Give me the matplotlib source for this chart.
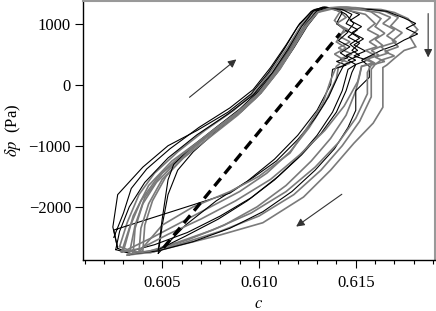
import matplotlib
matplotlib.use("Agg")
import matplotlib.pyplot as plt
from matplotlib.ticker import MultipleLocator, FormatStrFormatter

plt.rcParams['font.family'] = ['Liberation Serif', 'DejaVu Serif']
plt.rcParams['mathtext.fontset'] = 'stix'

# hysteresis loops (c, delta p in Pa)
c1 = [0.6028, 0.6032, 0.6038, 0.6046, 0.6058, 0.6072, 0.6087, 0.6098, 0.6107, 0.6115, 0.6122, 0.6129, 0.6135, 0.6141, 0.6145, 0.6140, 0.6146, 0.6141, 0.6147, 0.6141, 0.6148, 0.6142, 0.6147, 0.6141, 0.6140, 0.6134, 0.6126, 0.6116, 0.6104, 0.6090, 0.6075, 0.6060, 0.6045, 0.6032, 0.6028]
p1 = [-2650, -2250, -1800, -1450, -1100, -750, -420, -120, 250, 620, 980, 1230, 1260, 1220, 1100, 1000, 900, 800, 700, 600, 500, 420, 350, 280, 100, -300, -700, -1100, -1450, -1750, -2000, -2250, -2500, -2700, -2650]

c2 = [0.6027, 0.60245, 0.6027, 0.6040, 0.6053, 0.6068, 0.6084, 0.6096, 0.6105, 0.6113, 0.6120, 0.6127, 0.6133, 0.6140, 0.6146, 0.6152, 0.6147, 0.6153, 0.6148, 0.6154, 0.6149, 0.6155, 0.6149, 0.6156, 0.6150, 0.6148, 0.6145, 0.6140, 0.6132, 0.6122, 0.6110, 0.6096, 0.6080, 0.6063, 0.6046, 0.6032, 0.6027]
p2 = [-2680, -2330, -1800, -1350, -1000, -750, -450, -150, 200, 580, 950, 1200, 1270, 1250, 1220, 1150, 1050, 950, 850, 750, 650, 550, 470, 400, 330, 200, -100, -450, -800, -1150, -1500, -1850, -2150, -2420, -2620, -2740, -2680]

c3 = [0.6032, 0.6040, 0.6041, 0.6045, 0.6052, 0.6062, 0.6076, 0.6090, 0.6101, 0.6109, 0.6117, 0.6124, 0.6130, 0.6137, 0.6146, 0.6155, 0.6163, 0.6170, 0.6177, 0.6182, 0.6178, 0.6181, 0.6175, 0.6170, 0.6166, 0.6164, 0.6164, 0.6159, 0.6149, 0.6137, 0.6123, 0.6102, 0.6080, 0.6060, 0.6045, 0.6032]
p3 = [-2790, -2720, -2300, -1900, -1500, -1150, -780, -450, -130, 230, 600, 950, 1200, 1250, 1260, 1240, 1230, 1180, 1080, 900, 780, 620, 560, 430, 320, 280, -370, -630, -960, -1400, -1840, -2260, -2460, -2620, -2740, -2790]

c4 = [0.6048, 0.6050, 0.6053, 0.6058, 0.6066, 0.6078, 0.6091, 0.6101, 0.6110, 0.6118, 0.6125, 0.6131, 0.6137, 0.6143, 0.6140, 0.6146, 0.6141, 0.6147, 0.6142, 0.6146, 0.6140, 0.6145, 0.6138, 0.6137, 0.6130, 0.6120, 0.6108, 0.6094, 0.6078, 0.6062, 0.6048]
p4 = [-2760, -2300, -1800, -1400, -1100, -760, -440, -140, 220, 600, 960, 1200, 1250, 1180, 1000, 860, 720, 620, 520, 440, 380, 320, 250, 0, -420, -830, -1220, -1580, -1900, -2300, -2760]

c5 = [0.6035, 0.6036, 0.6040, 0.6047, 0.6058, 0.6071, 0.6086, 0.6098, 0.6108, 0.6116, 0.6123, 0.6130, 0.6138, 0.6147, 0.6155, 0.6160, 0.6156, 0.6162, 0.6157, 0.6161, 0.6155, 0.6160, 0.6154, 0.6159, 0.6153, 0.6152, 0.6150, 0.6145, 0.6137, 0.6127, 0.6114, 0.6099, 0.6082, 0.6064, 0.6048, 0.6035]
p5 = [-2760, -2350, -1950, -1600, -1250, -900, -550, -230, 150, 520, 900, 1180, 1240, 1210, 1150, 1000, 900, 800, 700, 620, 560, 480, 420, 360, 300, 150, -100, -500, -880, -1250, -1650, -2000, -2300, -2530, -2700, -2760]

c6 = [0.6025, 0.6030, 0.6034, 0.6042, 0.6054, 0.6069, 0.6085, 0.6097, 0.6106, 0.6114, 0.6121, 0.6128, 0.6134, 0.6140, 0.6145, 0.6149, 0.6146, 0.6152, 0.6147, 0.6151, 0.6145, 0.6150, 0.6144, 0.6141, 0.6136, 0.6129, 0.6120, 0.6109, 0.6097, 0.6085, 0.6025, 0.6027]
p6 = [-2500, -2100, -1700, -1380, -1050, -700, -380, -80, 280, 650, 1000, 1220, 1270, 1240, 1150, 1000, 880, 760, 660, 560, 480, 400, 330, 150, -200, -550, -900, -1250, -1520, -1775, -2380, -2680]

c7 = [0.6030, 0.6035, 0.6043, 0.6055, 0.6070, 0.6085, 0.6096, 0.6105, 0.6113, 0.6121, 0.6127, 0.6133, 0.6142, 0.6150, 0.6158, 0.6165, 0.6172, 0.6168, 0.6174, 0.6169, 0.6172, 0.6165, 0.6170, 0.6163, 0.6160, 0.6158, 0.6158, 0.6152, 0.6143, 0.6132, 0.6118, 0.6100, 0.6080, 0.6060, 0.6044, 0.6030]
p7 = [-2720, -2150, -1650, -1250, -900, -560, -260, 100, 470, 850, 1150, 1240, 1270, 1260, 1230, 1200, 1100, 960, 850, 720, 620, 540, 470, 400, 330, 250, -200, -600, -1000, -1400, -1800, -2150, -2400, -2600, -2750, -2720]

c8 = [0.6038, 0.6039, 0.6043, 0.6050, 0.6061, 0.6075, 0.6089, 0.6099, 0.6108, 0.6116, 0.6123, 0.6129, 0.6136, 0.6142, 0.6139, 0.6144, 0.6140, 0.6145, 0.6139, 0.6144, 0.6140, 0.6137, 0.6133, 0.6125, 0.6116, 0.6100, 0.6085, 0.6066, 0.6050, 0.6038]
p8 = [-2740, -2350, -1950, -1550, -1200, -850, -500, -200, 180, 560, 930, 1180, 1250, 1200, 1050, 900, 700, 600, 500, 400, 300, 70, -305, -700, -1120, -1500, -1750, -2000, -2300, -2740]

c9 = [0.6026, 0.6028, 0.6033, 0.6041, 0.6053, 0.6068, 0.6084, 0.6097, 0.6107, 0.6115, 0.6122, 0.6128, 0.6134, 0.6141, 0.6148, 0.6158, 0.6166, 0.6175, 0.6181, 0.6176, 0.6182, 0.6175, 0.6170, 0.6163, 0.6158, 0.6153, 0.6157, 0.6157, 0.6150, 0.6150, 0.6146, 0.6139, 0.6129, 0.6117, 0.6102, 0.6085, 0.6066, 0.6048, 0.6034, 0.6026]
p9 = [-2700, -2400, -2000, -1600, -1200, -820, -480, -170, 200, 580, 950, 1200, 1260, 1250, 1240, 1230, 1200, 1090, 1000, 920, 830, 730, 640, 560, 480, 400, 300, 120, -100, -420, -700, -1050, -1400, -1750, -2080, -2350, -2570, -2720, -2770, -2700]

c10 = [0.6033, 0.6036, 0.6041, 0.6050, 0.6063, 0.6078, 0.6092, 0.6102, 0.6111, 0.6118, 0.6125, 0.6131, 0.6138, 0.6146, 0.6154, 0.6162, 0.6168, 0.6164, 0.6170, 0.6166, 0.6171, 0.6163, 0.6167, 0.6160, 0.6165, 0.6158, 0.6156, 0.6156, 0.6150, 0.6141, 0.6129, 0.6114, 0.6096, 0.6076, 0.6058, 0.6043, 0.6033]
p10 = [-2770, -2300, -1850, -1450, -1100, -740, -400, -100, 260, 620, 980, 1210, 1250, 1240, 1220, 1180, 1100, 1000, 900, 800, 700, 620, 520, 450, 380, 320, 200, -150, -550, -950, -1350, -1750, -2100, -2380, -2580, -2730, -2770]

c11 = [0.6048, 0.6050, 0.6053, 0.6056, 0.6064, 0.6077, 0.6090, 0.6100, 0.6109, 0.6117, 0.6124, 0.6130, 0.6136, 0.6143, 0.6148, 0.6145, 0.6151, 0.6146, 0.6152, 0.6148, 0.6152, 0.6146, 0.6150, 0.6146, 0.6143, 0.6138, 0.6130, 0.6120, 0.6108, 0.6094, 0.6079, 0.6062, 0.6048]
p11 = [-2700, -2200, -1560, -1300, -1050, -720, -400, -100, 260, 630, 980, 1210, 1260, 1230, 1150, 1000, 900, 780, 680, 560, 480, 400, 330, 250, -100, -450, -830, -1200, -1560, -1900, -2200, -2480, -2700]

c12 = [0.6029, 0.6033, 0.6039, 0.6048, 0.6060, 0.6074, 0.6088, 0.6099, 0.6108, 0.6116, 0.6123, 0.6130, 0.6137, 0.6145, 0.6152, 0.6158, 0.6163, 0.6160, 0.6165, 0.6160, 0.6164, 0.6158, 0.6162, 0.6156, 0.6160, 0.6153, 0.6151, 0.6144, 0.6134, 0.6121, 0.6106, 0.6088, 0.6070, 0.6053, 0.6039, 0.6029]
p12 = [-2740, -2350, -1900, -1500, -1150, -800, -470, -170, 200, 570, 930, 1180, 1260, 1270, 1240, 1190, 1080, 950, 840, 740, 640, 560, 480, 420, 350, 300, 50, -350, -750, -1150, -1550, -1900, -2200, -2450, -2680, -2740]

loops = [(c1, p1), (c2, p2), (c3, p3), (c4, p4), (c5, p5), (c6, p6),
         (c7, p7), (c8, p8), (c9, p9), (c10, p10), (c11, p11), (c12, p12)]
loop_colors = ['gray', 'black', 'gray', 'black', 'gray', 'black',
               'gray', 'gray', 'black', 'gray', 'black', 'gray']

# dashed mean line
dash_c = [0.60507, 0.61419]
dash_p = [-2670, 837]

# arrows: (start c, start p, end c, end p)
arrow_up = (0.60641, -207, 0.60883, 413)
arrow_down_left = (0.61428, -1794, 0.61192, -2323)
arrow_down = (0.61874, 1163, 0.61874, 445)

fig = plt.figure(figsize=(4.36, 3.11), dpi=100)
ax = fig.add_axes([0.19, 0.164, 0.808, 0.833])

for (c, p), col in zip(loops, loop_colors):
    if col == 'gray':
        ax.plot(c, p, color='#7a7a7a', lw=1.2, solid_joinstyle='miter')
    else:
        ax.plot(c, p, color='black', lw=0.8, solid_joinstyle='miter')

ax.plot(dash_c, dash_p, color='black', lw=2.4, dashes=(3.0, 1.8))

for a in [arrow_up, arrow_down_left, arrow_down]:
    ax.annotate('', xy=(a[2], a[3]), xytext=(a[0], a[1]),
                arrowprops=dict(arrowstyle='-|>', color='#333333', lw=0.8,
                                mutation_scale=12, shrinkA=0, shrinkB=0))

ax.set_xlim(0.6009, 0.6191)
ax.set_ylim(-2870, 1370)
ax.xaxis.set_major_locator(MultipleLocator(0.005))
ax.xaxis.set_minor_locator(MultipleLocator(0.001))
ax.xaxis.set_major_formatter(FormatStrFormatter('%.3f'))
ax.yaxis.set_major_locator(MultipleLocator(1000))

ax.tick_params(axis='both', which='major', direction='out', length=5.5, width=0.8,
               labelsize=12, pad=3)
ax.tick_params(axis='x', which='major', pad=5)
ax.tick_params(axis='x', which='minor', direction='out', length=3, width=0.8)

ax.spines['top'].set_color('#999999')
ax.spines['right'].set_color('#999999')
ax.spines['top'].set_linewidth(1.5)
ax.spines['right'].set_linewidth(1.5)
ax.spines['left'].set_linewidth(1.0)
ax.spines['bottom'].set_linewidth(1.0)

ax.set_xlabel('$c$', fontsize=12, labelpad=4)
ax.set_ylabel(r'$\delta p$  (Pa)', fontsize=12, labelpad=4)

fig.savefig('out.png', dpi=100)
